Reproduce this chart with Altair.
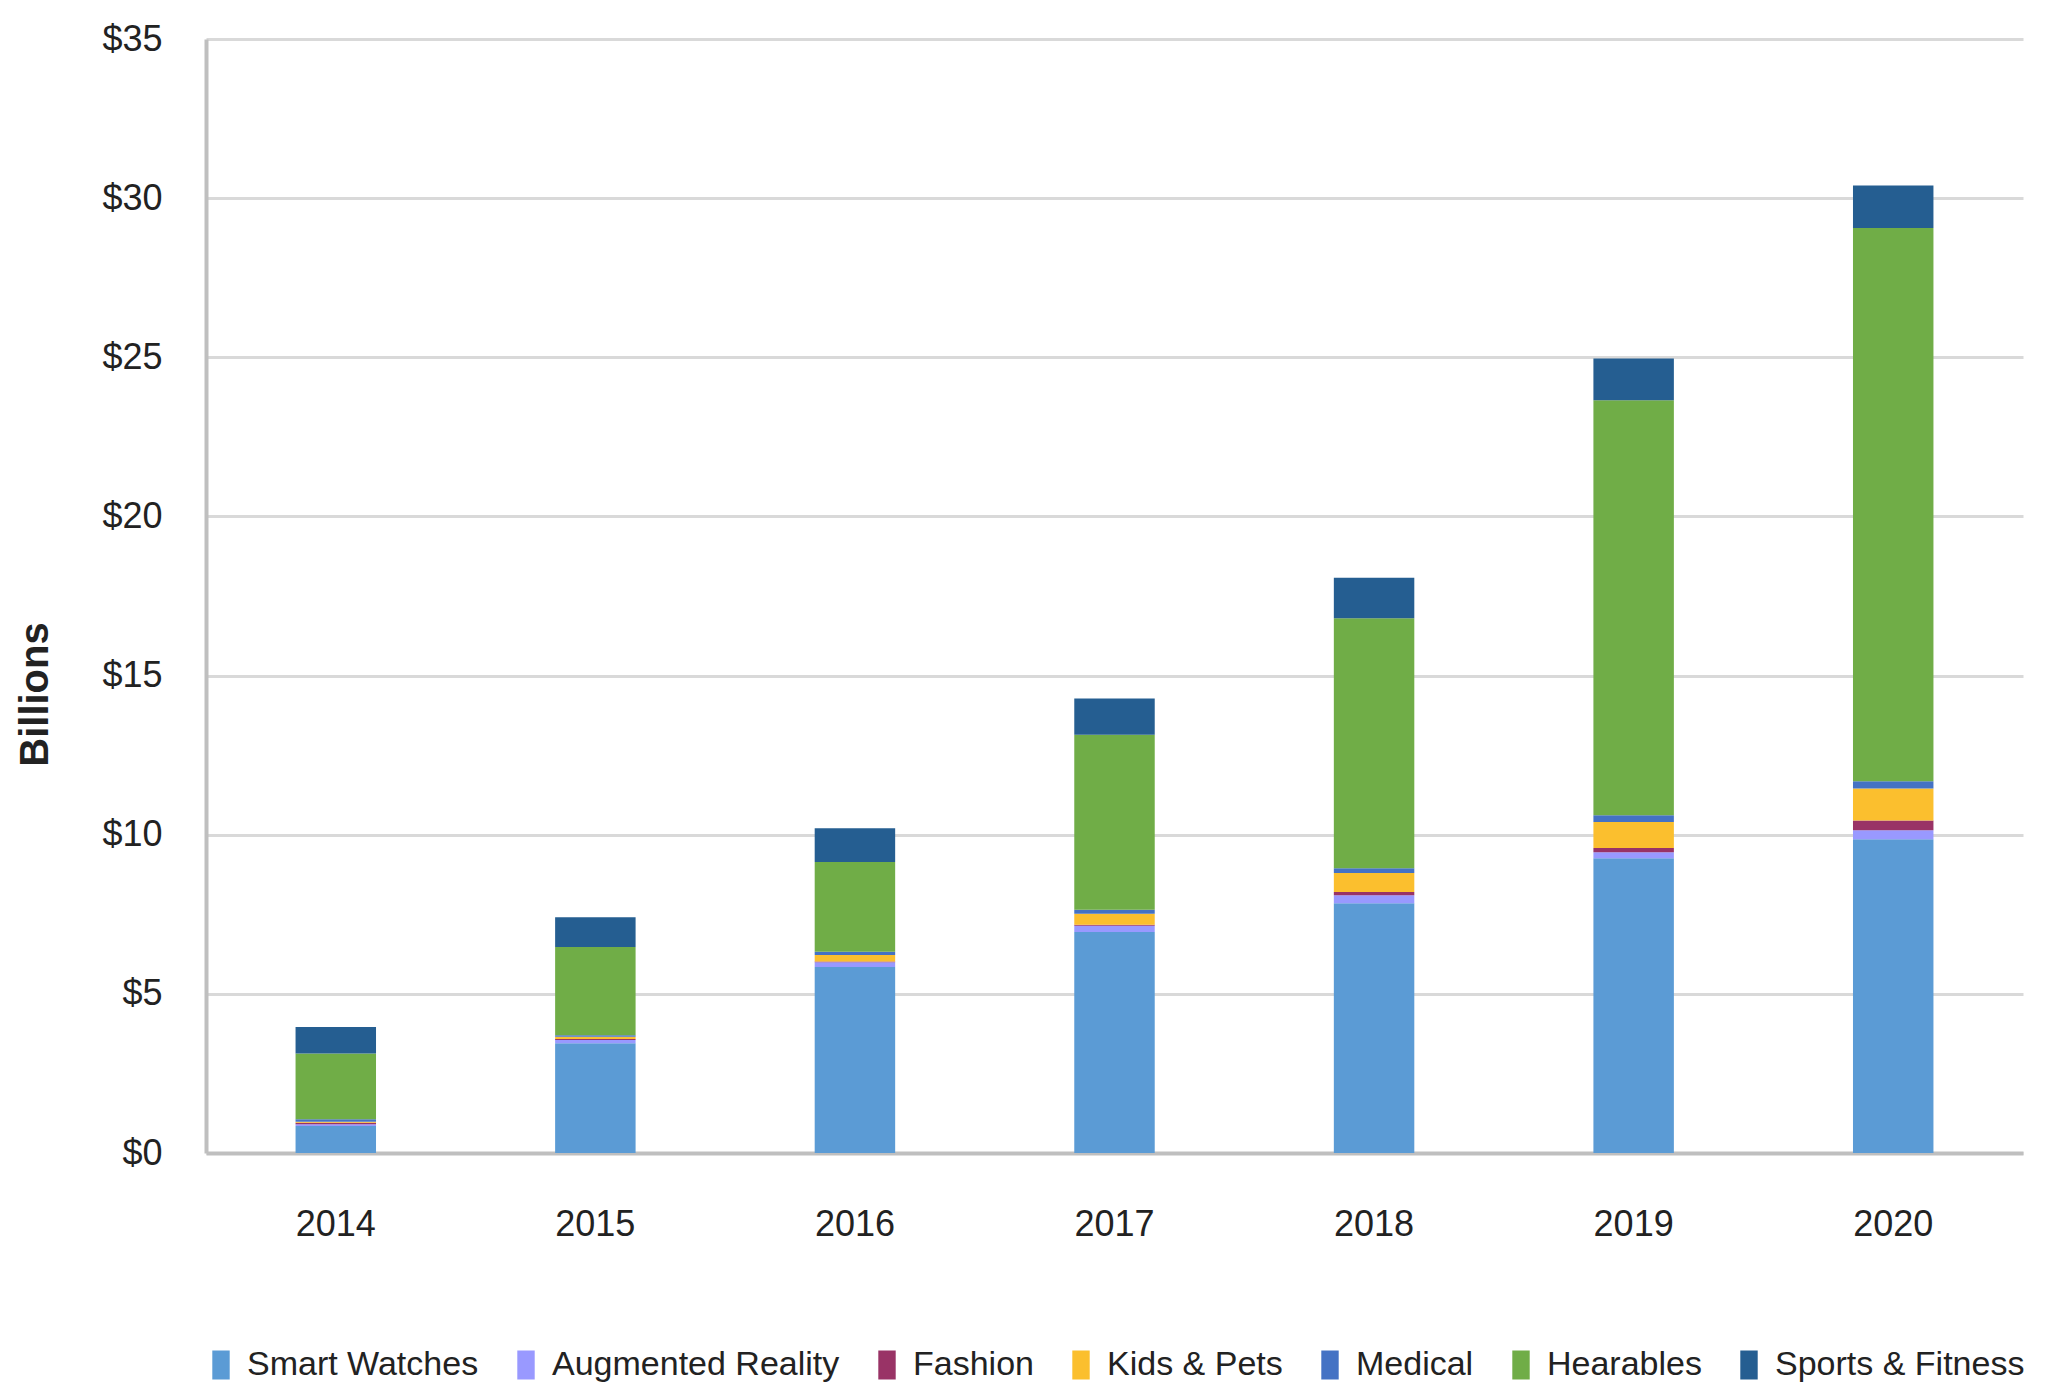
import altair as alt
import pandas as pd

years = ["2014", "2015", "2016", "2017", "2018", "2019", "2020"]
categories = ["Smart Watches", "Augmented Reality", "Fashion", "Kids & Pets",
              "Medical", "Hearables", "Sports & Fitness"]
colors = ["#5B9BD5", "#9999FF", "#993366", "#FBBF2E", "#4472C4", "#70AD47", "#255E91"]

smart_watches = [0.85, 3.45, 5.84, 6.94, 7.85, 9.26, 9.86]
augmented_reality = [0.05, 0.10, 0.15, 0.20, 0.25, 0.19, 0.28]
fashion = [0.05, 0.03, 0.03, 0.03, 0.10, 0.13, 0.31]
kids_pets = [0.03, 0.07, 0.20, 0.35, 0.60, 0.82, 1.00]
medical = [0.08, 0.05, 0.10, 0.12, 0.15, 0.21, 0.23]
hearables = [2.07, 2.77, 2.82, 5.50, 7.85, 13.04, 17.38]
sports_fitness = [0.83, 0.94, 1.06, 1.14, 1.27, 1.31, 1.34]

y_ticks = [0, 5, 10, 15, 20, 25, 30, 35]

series = [smart_watches, augmented_reality, fashion, kids_pets, medical,
          hearables, sports_fitness]
rows = []
for ci, (cat, vals) in enumerate(zip(categories, series)):
    for y, v in zip(years, vals):
        rows.append({"Year": y, "Category": cat, "Value": v, "order": ci})
df = pd.DataFrame(rows)

FONT = "Liberation Sans"

chart = alt.Chart(df).mark_bar().encode(
    x=alt.X("Year:N", sort=years,
            scale=alt.Scale(paddingInner=0.69, paddingOuter=0.345),
            axis=alt.Axis(title=None, labelAngle=0, labelFont=FONT, labelFontSize=36,
                          labelColor="#222222", labelPadding=54, ticks=False,
                          domainColor="#BFBFBF", domainWidth=4, grid=False)),
    y=alt.Y("Value:Q", stack="zero",
            scale=alt.Scale(domain=[0, 35], nice=False),
            axis=alt.Axis(title="Billions", values=y_ticks,
                          labelExpr="'$' + datum.value",
                          labelFont=FONT, labelFontSize=36, labelColor="#222222",
                          labelPadding=44, ticks=False,
                          domainColor="#BFBFBF", domainWidth=4,
                          gridColor="#D9D9D9", gridWidth=3,
                          titleFont="Liberation Sans", titleFontSize=40,
                          titleFontWeight="bold", titleColor="#222222",
                          titleAngle=-90, titleX=-171, titleY=655,
                          titleAlign="center", titleBaseline="middle")),
    color=alt.Color("Category:N",
                    scale=alt.Scale(domain=categories, range=colors),
                    legend=alt.Legend(title=None, orient="none", direction="horizontal",
                                      legendX=-2, legendY=1309,
                                      labelFont=FONT, labelFontSize=34,
                                      labelColor="#222222", labelLimit=500,
                                      symbolType="M-0.6,-1H0.6V1H-0.6Z",
                                      symbolSize=841, symbolStrokeWidth=0,
                                      labelOffset=9, columnPadding=30)),
    order=alt.Order("order:Q", sort="ascending"),
).properties(
    width=1817, height=1114,
    autosize=alt.AutoSizeParams(type="none"),
    padding={"left": 198, "top": 31, "right": 15, "bottom": 235},
).configure_view(stroke=None)

chart.save("out.html", embed_options={"renderer": "svg", "actions": False})
